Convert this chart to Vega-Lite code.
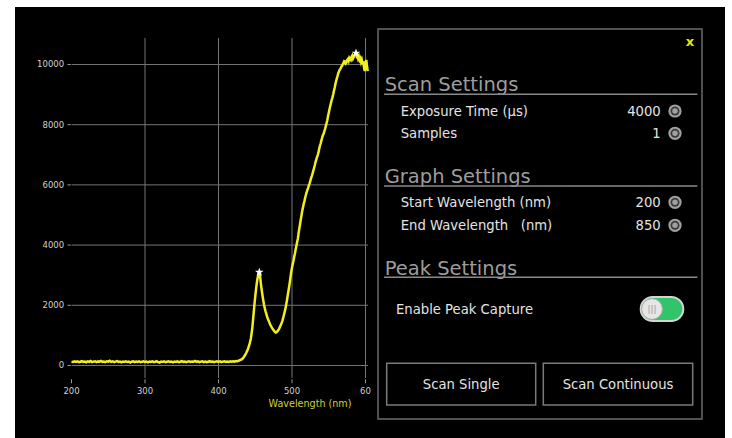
{
"$schema": "https://vega.github.io/schema/vega-lite/v6.json",
"width": 710, "height": 431,
"padding": {"left": 15, "top": 7, "right": 7, "bottom": 0},
"background": "white",
"config": {"view": {"fill": "black", "stroke": null}, "text": {"font": "DejaVu Sans"}},
"datasets": {
"spectrum": [{"nm":200,"val":130},{"nm":202,"val":115},{"nm":204,"val":140},{"nm":206,"val":120},{"nm":208,"val":135},{"nm":210,"val":110},{"nm":212,"val":125},{"nm":214,"val":145},{"nm":216,"val":118},{"nm":218,"val":130},{"nm":220,"val":108},{"nm":222,"val":138},{"nm":224,"val":122},{"nm":226,"val":150},{"nm":228,"val":115},{"nm":230,"val":128},{"nm":232,"val":140},{"nm":234,"val":112},{"nm":236,"val":135},{"nm":238,"val":125},{"nm":240,"val":148},{"nm":242,"val":118},{"nm":244,"val":132},{"nm":246,"val":110},{"nm":248,"val":140},{"nm":250,"val":126},{"nm":252,"val":155},{"nm":254,"val":120},{"nm":256,"val":135},{"nm":258,"val":112},{"nm":260,"val":130},{"nm":262,"val":145},{"nm":264,"val":118},{"nm":266,"val":128},{"nm":268,"val":105},{"nm":270,"val":132},{"nm":272,"val":120},{"nm":274,"val":140},{"nm":276,"val":115},{"nm":278,"val":128},{"nm":280,"val":100},{"nm":282,"val":125},{"nm":284,"val":138},{"nm":286,"val":112},{"nm":288,"val":130},{"nm":290,"val":118},{"nm":292,"val":135},{"nm":294,"val":108},{"nm":296,"val":122},{"nm":298,"val":140},{"nm":300,"val":115},{"nm":302,"val":128},{"nm":304,"val":105},{"nm":306,"val":132},{"nm":308,"val":118},{"nm":310,"val":138},{"nm":312,"val":112},{"nm":314,"val":125},{"nm":316,"val":142},{"nm":318,"val":110},{"nm":320,"val":95},{"nm":322,"val":130},{"nm":324,"val":118},{"nm":326,"val":135},{"nm":328,"val":108},{"nm":330,"val":125},{"nm":332,"val":140},{"nm":334,"val":115},{"nm":336,"val":128},{"nm":338,"val":105},{"nm":340,"val":130},{"nm":342,"val":120},{"nm":344,"val":138},{"nm":346,"val":112},{"nm":348,"val":126},{"nm":350,"val":145},{"nm":352,"val":118},{"nm":354,"val":132},{"nm":356,"val":110},{"nm":358,"val":128},{"nm":360,"val":140},{"nm":362,"val":115},{"nm":364,"val":130},{"nm":366,"val":122},{"nm":368,"val":148},{"nm":370,"val":118},{"nm":372,"val":135},{"nm":374,"val":112},{"nm":376,"val":128},{"nm":378,"val":140},{"nm":380,"val":115},{"nm":382,"val":132},{"nm":384,"val":108},{"nm":386,"val":125},{"nm":388,"val":142},{"nm":390,"val":118},{"nm":392,"val":130},{"nm":394,"val":112},{"nm":396,"val":128},{"nm":398,"val":140},{"nm":400,"val":120},{"nm":402,"val":135},{"nm":404,"val":110},{"nm":406,"val":128},{"nm":408,"val":142},{"nm":410,"val":118},{"nm":412,"val":130},{"nm":414,"val":115},{"nm":416,"val":138},{"nm":418,"val":125},{"nm":420,"val":140},{"nm":422,"val":130},{"nm":424,"val":150},{"nm":426,"val":145},{"nm":428,"val":165},{"nm":430,"val":185},{"nm":432,"val":210},{"nm":434,"val":265},{"nm":436,"val":340},{"nm":438,"val":430},{"nm":440,"val":540},{"nm":442,"val":690},{"nm":444,"val":890},{"nm":446,"val":1250},{"nm":448,"val":1780},{"nm":449,"val":2060},{"nm":450,"val":2300},{"nm":451,"val":2520},{"nm":452,"val":2720},{"nm":453,"val":2880},{"nm":454,"val":3000},{"nm":455,"val":3080},{"nm":456,"val":3090},{"nm":457,"val":2870},{"nm":458,"val":2640},{"nm":459,"val":2470},{"nm":460,"val":2300},{"nm":461,"val":2150},{"nm":462,"val":2010},{"nm":463,"val":1900},{"nm":464,"val":1800},{"nm":465,"val":1720},{"nm":466,"val":1630},{"nm":467,"val":1560},{"nm":468,"val":1500},{"nm":469,"val":1440},{"nm":470,"val":1380},{"nm":471,"val":1330},{"nm":472,"val":1280},{"nm":473,"val":1240},{"nm":474,"val":1200},{"nm":475,"val":1170},{"nm":476,"val":1140},{"nm":477,"val":1110},{"nm":478,"val":1095},{"nm":479,"val":1105},{"nm":480,"val":1130},{"nm":481,"val":1160},{"nm":482,"val":1200},{"nm":483,"val":1250},{"nm":484,"val":1300},{"nm":485,"val":1360},{"nm":486,"val":1420},{"nm":487,"val":1490},{"nm":488,"val":1580},{"nm":489,"val":1680},{"nm":490,"val":1780},{"nm":491,"val":1880},{"nm":492,"val":2010},{"nm":493,"val":2150},{"nm":494,"val":2300},{"nm":495,"val":2450},{"nm":496,"val":2600},{"nm":497,"val":2760},{"nm":498,"val":2940},{"nm":499,"val":3120},{"nm":500,"val":3250},{"nm":501,"val":3370},{"nm":502,"val":3480},{"nm":503,"val":3610},{"nm":504,"val":3720},{"nm":505,"val":3860},{"nm":506,"val":3980},{"nm":507,"val":4100},{"nm":508,"val":4220},{"nm":509,"val":4400},{"nm":510,"val":4560},{"nm":511,"val":4700},{"nm":512,"val":4860},{"nm":513,"val":5000},{"nm":514,"val":5150},{"nm":515,"val":5260},{"nm":516,"val":5380},{"nm":517,"val":5470},{"nm":518,"val":5580},{"nm":519,"val":5680},{"nm":520,"val":5760},{"nm":521,"val":5840},{"nm":522,"val":5900},{"nm":523,"val":5990},{"nm":524,"val":6050},{"nm":525,"val":6140},{"nm":526,"val":6230},{"nm":527,"val":6300},{"nm":528,"val":6380},{"nm":529,"val":6470},{"nm":530,"val":6560},{"nm":531,"val":6650},{"nm":532,"val":6760},{"nm":533,"val":6840},{"nm":534,"val":6920},{"nm":535,"val":6990},{"nm":536,"val":7080},{"nm":537,"val":7200},{"nm":538,"val":7300},{"nm":539,"val":7380},{"nm":540,"val":7480},{"nm":541,"val":7560},{"nm":542,"val":7650},{"nm":543,"val":7700},{"nm":544,"val":7780},{"nm":545,"val":7860},{"nm":546,"val":7950},{"nm":547,"val":8050},{"nm":548,"val":8150},{"nm":549,"val":8280},{"nm":550,"val":8400},{"nm":551,"val":8510},{"nm":552,"val":8620},{"nm":553,"val":8720},{"nm":554,"val":8820},{"nm":555,"val":8900},{"nm":556,"val":9000},{"nm":557,"val":9120},{"nm":558,"val":9220},{"nm":559,"val":9340},{"nm":560,"val":9450},{"nm":561,"val":9540},{"nm":562,"val":9620},{"nm":563,"val":9710},{"nm":564,"val":9780},{"nm":565,"val":9830},{"nm":566,"val":9860},{"nm":567,"val":9920},{"nm":568,"val":9950},{"nm":569,"val":10010},{"nm":570,"val":10050},{"nm":571,"val":10110},{"nm":572,"val":10100},{"nm":573,"val":10030},{"nm":574,"val":10060},{"nm":575,"val":10150},{"nm":576,"val":10180},{"nm":577,"val":10120},{"nm":578,"val":10220},{"nm":579,"val":10180},{"nm":580,"val":10150},{"nm":581,"val":10260},{"nm":582,"val":10300},{"nm":583,"val":10200},{"nm":584,"val":10250},{"nm":585,"val":10310},{"nm":586,"val":10330},{"nm":587,"val":10380},{"nm":588,"val":10280},{"nm":589,"val":10320},{"nm":590,"val":10200},{"nm":591,"val":10260},{"nm":592,"val":10150},{"nm":593,"val":10200},{"nm":594,"val":10080},{"nm":595,"val":10150},{"nm":596,"val":10020},{"nm":597,"val":10100},{"nm":598,"val":9900},{"nm":599,"val":9780},{"nm":600,"val":10050},{"nm":601,"val":10150},{"nm":602,"val":9950},{"nm":603,"val":9780}],
"peaks": [{"nm":455.5,"val":3100},{"nm":587,"val":10380}],
"yticks": [{"val":0,"lab":"0"},{"val":2000,"lab":"2000"},{"val":4000,"lab":"4000"},{"val":6000,"lab":"6000"},{"val":8000,"lab":"8000"},{"val":10000,"lab":"10000"}],
"xticks": [{"nm":300},{"nm":400},{"nm":500},{"nm":600}],
"xlabels": [{"nm":200,"lab":"200"},{"nm":300,"lab":"300"},{"nm":400,"lab":"400"},{"nm":500,"lab":"500"},{"nm":600,"lab":"60\u00a0"}]
},
"layer": [
{"layer": [
 {"data":{"name":"yticks"},"mark":{"type":"rule","color":"#747474","strokeWidth":1},
  "encoding":{"y":{"field":"val","type":"quantitative","scale":{"domain":[-2409,11910],"nice":false,"zero":false},"axis":null},
   "x":{"datum":200,"type":"quantitative","scale":{"domain":[123.13,1089.1],"nice":false,"zero":false},"axis":null},"x2":{"datum":603.4}}},
 {"data":{"name":"yticks"},"mark":{"type":"rule","color":"#9a9a9a","strokeWidth":1},
  "encoding":{"y":{"field":"val","type":"quantitative","scale":{"domain":[-2409,11910],"nice":false,"zero":false},"axis":null},
   "x":{"datum":194.5,"type":"quantitative","scale":{"domain":[123.13,1089.1],"nice":false,"zero":false},"axis":null},"x2":{"datum":199}}},
 {"data":{"name":"yticks"},"mark":{"type":"text","align":"right","baseline":"middle","fontSize":8.5,"color":"#d0d0d0"},
  "encoding":{"y":{"field":"val","type":"quantitative","scale":{"domain":[-2409,11910],"nice":false,"zero":false},"axis":null},
   "x":{"datum":190,"type":"quantitative","scale":{"domain":[123.13,1089.1],"nice":false,"zero":false},"axis":null},"text":{"field":"lab"}}},
 {"data":{"name":"xticks"},"mark":{"type":"rule","color":"#747474","strokeWidth":1},
  "encoding":{"x":{"field":"nm","type":"quantitative","scale":{"domain":[123.13,1089.1],"nice":false,"zero":false},"axis":null},
   "y":{"datum":-415,"type":"quantitative","scale":{"domain":[-2409,11910],"nice":false,"zero":false},"axis":null},"y2":{"datum":10880}}},
 {"data":{"name":"xlabels"},"mark":{"type":"rule","color":"#9a9a9a","strokeWidth":1},
  "encoding":{"x":{"field":"nm","type":"quantitative","scale":{"domain":[123.13,1089.1],"nice":false,"zero":false},"axis":null},
   "y":{"datum":-460,"type":"quantitative","scale":{"domain":[-2409,11910],"nice":false,"zero":false},"axis":null},"y2":{"datum":-590}}},
 {"data":{"name":"xlabels"},"mark":{"type":"text","align":"center","baseline":"middle","fontSize":8.5,"color":"#d0d0d0"},
  "encoding":{"x":{"field":"nm","type":"quantitative","scale":{"domain":[123.13,1089.1],"nice":false,"zero":false},"axis":null},
   "y":{"datum":-850,"type":"quantitative","scale":{"domain":[-2409,11910],"nice":false,"zero":false},"axis":null},"text":{"field":"lab"}}},
 {"data":{"values":[{"title":"Wavelength (nm)"}]},"mark":{"type":"text","align":"center","baseline":"middle","fontSize":9.6,"color":"#cfcf3a"},
  "encoding":{"x":{"datum":524.5,"type":"quantitative","scale":{"domain":[123.13,1089.1],"nice":false,"zero":false},"axis":null},
   "y":{"datum":-1279,"type":"quantitative","scale":{"domain":[-2409,11910],"nice":false,"zero":false},"axis":null},"text":{"field":"title"}}},
 {"data":{"name":"spectrum"},"mark":{"type":"line","color":"#f3ef1f","strokeWidth":2.5},
  "encoding":{"x":{"field":"nm","type":"quantitative","scale":{"domain":[123.13,1089.1],"nice":false,"zero":false},"axis":null},
   "y":{"field":"val","type":"quantitative","scale":{"domain":[-2409,11910],"nice":false,"zero":false},"axis":null}}},
 {"data":{"name":"peaks"},"mark":{"type":"point","shape":"M0,-1L0.2245,-0.309L0.951,-0.309L0.363,0.118L0.588,0.809L0,0.382L-0.588,0.809L-0.363,0.118L-0.951,-0.309L-0.2245,-0.309Z","filled":true,"color":"white","size":85,"opacity":1},
  "encoding":{"x":{"field":"nm","type":"quantitative","scale":{"domain":[123.13,1089.1],"nice":false,"zero":false},"axis":null},
   "y":{"field":"val","type":"quantitative","scale":{"domain":[-2409,11910],"nice":false,"zero":false},"axis":null}}}
]},
{"layer": [
 {"data":{"values":[{"part":"panel"}]},"mark":{"type":"rect","fill":"black","stroke":"#6b6b6b","strokeWidth":1.5},
  "encoding":{"x":{"datum":0,"type":"quantitative","scale":{"domain":[-363,347],"nice":false,"zero":false},"axis":null},"x2":{"datum":324},
   "y":{"datum":0,"type":"quantitative","scale":{"domain":[-22,409],"nice":false,"zero":false,"reverse":true},"axis":null},"y2":{"datum":390}}},
 {"data":{"values":[{"t":"x"}]},"mark":{"type":"text","align":"center","baseline":"alphabetic","fontSize":13,"fontWeight":"bold","color":"#e6e600"},
  "encoding":{"x":{"datum":312,"type":"quantitative","scale":{"domain":[-363,347],"nice":false,"zero":false},"axis":null},
   "y":{"datum":17,"type":"quantitative","scale":{"domain":[-22,409],"nice":false,"zero":false,"reverse":true},"axis":null},"text":{"field":"t"}}},
 {"data":{"values":[{"h":"Scan Settings"}]},"mark":{"type":"text","align":"left","baseline":"alphabetic","fontSize":19.5,"color":"#9d9d9d"},
  "encoding":{"x":{"datum":6.7,"type":"quantitative","scale":{"domain":[-363,347],"nice":false,"zero":false},"axis":null},
   "y":{"datum":61.7,"type":"quantitative","scale":{"domain":[-22,409],"nice":false,"zero":false,"reverse":true},"axis":null},"text":{"field":"h"}}},
 {"data":{"values":[{"h":"Graph Settings"}]},"mark":{"type":"text","align":"left","baseline":"alphabetic","fontSize":19.5,"color":"#9d9d9d"},
  "encoding":{"x":{"datum":6.7,"type":"quantitative","scale":{"domain":[-363,347],"nice":false,"zero":false},"axis":null},
   "y":{"datum":153.7,"type":"quantitative","scale":{"domain":[-22,409],"nice":false,"zero":false,"reverse":true},"axis":null},"text":{"field":"h"}}},
 {"data":{"values":[{"h":"Peak Settings"}]},"mark":{"type":"text","align":"left","baseline":"alphabetic","fontSize":19.5,"color":"#9d9d9d"},
  "encoding":{"x":{"datum":6.7,"type":"quantitative","scale":{"domain":[-363,347],"nice":false,"zero":false},"axis":null},
   "y":{"datum":246.3,"type":"quantitative","scale":{"domain":[-22,409],"nice":false,"zero":false,"reverse":true},"axis":null},"text":{"field":"h"}}},
 {"data":{"values":[{"line":"Scan Settings"}]},"mark":{"type":"rule","color":"#8a8a8a","strokeWidth":1.5},
  "encoding":{"x":{"datum":6,"type":"quantitative","scale":{"domain":[-363,347],"nice":false,"zero":false},"axis":null},"x2":{"datum":319.3},
   "y":{"datum":65.3,"type":"quantitative","scale":{"domain":[-22,409],"nice":false,"zero":false,"reverse":true},"axis":null}}},
 {"data":{"values":[{"line":"Graph Settings"}]},"mark":{"type":"rule","color":"#8a8a8a","strokeWidth":1.5},
  "encoding":{"x":{"datum":6,"type":"quantitative","scale":{"domain":[-363,347],"nice":false,"zero":false},"axis":null},"x2":{"datum":319.3},
   "y":{"datum":157,"type":"quantitative","scale":{"domain":[-22,409],"nice":false,"zero":false,"reverse":true},"axis":null}}},
 {"data":{"values":[{"line":"Peak Settings"}]},"mark":{"type":"rule","color":"#8a8a8a","strokeWidth":1.5},
  "encoding":{"x":{"datum":6,"type":"quantitative","scale":{"domain":[-363,347],"nice":false,"zero":false},"axis":null},"x2":{"datum":319.3},
   "y":{"datum":248.3,"type":"quantitative","scale":{"domain":[-22,409],"nice":false,"zero":false,"reverse":true},"axis":null}}},
 {"data":{"values":[{"label":"Exposure Time (µs)","value":"4000"}]},"layer":[
  {"mark":{"type":"text","align":"left","baseline":"alphabetic","fontSize":13.2,"color":"#e4e4e4"},"encoding":{"x":{"datum":22.7,"type":"quantitative","scale":{"domain":[-363,347],"nice":false,"zero":false},"axis":null},"y":{"datum":86.7,"type":"quantitative","scale":{"domain":[-22,409],"nice":false,"zero":false,"reverse":true},"axis":null},"text":{"field":"label"}}},
  {"mark":{"type":"text","align":"right","baseline":"alphabetic","fontSize":13.2,"color":"#e4e4e4"},"encoding":{"x":{"datum":282.7,"type":"quantitative","scale":{"domain":[-363,347],"nice":false,"zero":false},"axis":null},"y":{"datum":86.7,"type":"quantitative","scale":{"domain":[-22,409],"nice":false,"zero":false,"reverse":true},"axis":null},"text":{"field":"value"}}},
  {"mark":{"type":"point","shape":"circle","filled":true,"size":175,"color":"#a0a0a0","opacity":1},"encoding":{"x":{"datum":297,"type":"quantitative","scale":{"domain":[-363,347],"nice":false,"zero":false},"axis":null},"y":{"datum":82,"type":"quantitative","scale":{"domain":[-22,409],"nice":false,"zero":false,"reverse":true},"axis":null}}},
  {"mark":{"type":"point","shape":"circle","filled":true,"size":80,"color":"#3a3a3a","opacity":1},"encoding":{"x":{"datum":297,"type":"quantitative","scale":{"domain":[-363,347],"nice":false,"zero":false},"axis":null},"y":{"datum":82,"type":"quantitative","scale":{"domain":[-22,409],"nice":false,"zero":false,"reverse":true},"axis":null}}},
  {"mark":{"type":"point","shape":"circle","filled":true,"size":30,"color":"#a0a0a0","opacity":1},"encoding":{"x":{"datum":297,"type":"quantitative","scale":{"domain":[-363,347],"nice":false,"zero":false},"axis":null},"y":{"datum":82,"type":"quantitative","scale":{"domain":[-22,409],"nice":false,"zero":false,"reverse":true},"axis":null}}}
 ]},
 {"data":{"values":[{"label":"Samples","value":"1"}]},"layer":[
  {"mark":{"type":"text","align":"left","baseline":"alphabetic","fontSize":13.2,"color":"#e4e4e4"},"encoding":{"x":{"datum":22.7,"type":"quantitative","scale":{"domain":[-363,347],"nice":false,"zero":false},"axis":null},"y":{"datum":109.1,"type":"quantitative","scale":{"domain":[-22,409],"nice":false,"zero":false,"reverse":true},"axis":null},"text":{"field":"label"}}},
  {"mark":{"type":"text","align":"right","baseline":"alphabetic","fontSize":13.2,"color":"#e4e4e4"},"encoding":{"x":{"datum":282.7,"type":"quantitative","scale":{"domain":[-363,347],"nice":false,"zero":false},"axis":null},"y":{"datum":109.1,"type":"quantitative","scale":{"domain":[-22,409],"nice":false,"zero":false,"reverse":true},"axis":null},"text":{"field":"value"}}},
  {"mark":{"type":"point","shape":"circle","filled":true,"size":175,"color":"#a0a0a0","opacity":1},"encoding":{"x":{"datum":297,"type":"quantitative","scale":{"domain":[-363,347],"nice":false,"zero":false},"axis":null},"y":{"datum":104.3,"type":"quantitative","scale":{"domain":[-22,409],"nice":false,"zero":false,"reverse":true},"axis":null}}},
  {"mark":{"type":"point","shape":"circle","filled":true,"size":80,"color":"#3a3a3a","opacity":1},"encoding":{"x":{"datum":297,"type":"quantitative","scale":{"domain":[-363,347],"nice":false,"zero":false},"axis":null},"y":{"datum":104.3,"type":"quantitative","scale":{"domain":[-22,409],"nice":false,"zero":false,"reverse":true},"axis":null}}},
  {"mark":{"type":"point","shape":"circle","filled":true,"size":30,"color":"#a0a0a0","opacity":1},"encoding":{"x":{"datum":297,"type":"quantitative","scale":{"domain":[-363,347],"nice":false,"zero":false},"axis":null},"y":{"datum":104.3,"type":"quantitative","scale":{"domain":[-22,409],"nice":false,"zero":false,"reverse":true},"axis":null}}}
 ]},
 {"data":{"values":[{"label":"Start Wavelength (nm)","value":"200"}]},"layer":[
  {"mark":{"type":"text","align":"left","baseline":"alphabetic","fontSize":13.2,"color":"#e4e4e4"},"encoding":{"x":{"datum":22.7,"type":"quantitative","scale":{"domain":[-363,347],"nice":false,"zero":false},"axis":null},"y":{"datum":178.1,"type":"quantitative","scale":{"domain":[-22,409],"nice":false,"zero":false,"reverse":true},"axis":null},"text":{"field":"label"}}},
  {"mark":{"type":"text","align":"right","baseline":"alphabetic","fontSize":13.2,"color":"#e4e4e4"},"encoding":{"x":{"datum":282.7,"type":"quantitative","scale":{"domain":[-363,347],"nice":false,"zero":false},"axis":null},"y":{"datum":178.1,"type":"quantitative","scale":{"domain":[-22,409],"nice":false,"zero":false,"reverse":true},"axis":null},"text":{"field":"value"}}},
  {"mark":{"type":"point","shape":"circle","filled":true,"size":175,"color":"#a0a0a0","opacity":1},"encoding":{"x":{"datum":297,"type":"quantitative","scale":{"domain":[-363,347],"nice":false,"zero":false},"axis":null},"y":{"datum":173.3,"type":"quantitative","scale":{"domain":[-22,409],"nice":false,"zero":false,"reverse":true},"axis":null}}},
  {"mark":{"type":"point","shape":"circle","filled":true,"size":80,"color":"#3a3a3a","opacity":1},"encoding":{"x":{"datum":297,"type":"quantitative","scale":{"domain":[-363,347],"nice":false,"zero":false},"axis":null},"y":{"datum":173.3,"type":"quantitative","scale":{"domain":[-22,409],"nice":false,"zero":false,"reverse":true},"axis":null}}},
  {"mark":{"type":"point","shape":"circle","filled":true,"size":30,"color":"#a0a0a0","opacity":1},"encoding":{"x":{"datum":297,"type":"quantitative","scale":{"domain":[-363,347],"nice":false,"zero":false},"axis":null},"y":{"datum":173.3,"type":"quantitative","scale":{"domain":[-22,409],"nice":false,"zero":false,"reverse":true},"axis":null}}}
 ]},
 {"data":{"values":[{"label":"End Wavelength\u00a0\u00a0\u00a0(nm)","value":"850"}]},"layer":[
  {"mark":{"type":"text","align":"left","baseline":"alphabetic","fontSize":13.2,"color":"#e4e4e4"},"encoding":{"x":{"datum":22.7,"type":"quantitative","scale":{"domain":[-363,347],"nice":false,"zero":false},"axis":null},"y":{"datum":201.1,"type":"quantitative","scale":{"domain":[-22,409],"nice":false,"zero":false,"reverse":true},"axis":null},"text":{"field":"label"}}},
  {"mark":{"type":"text","align":"right","baseline":"alphabetic","fontSize":13.2,"color":"#e4e4e4"},"encoding":{"x":{"datum":282.7,"type":"quantitative","scale":{"domain":[-363,347],"nice":false,"zero":false},"axis":null},"y":{"datum":201.1,"type":"quantitative","scale":{"domain":[-22,409],"nice":false,"zero":false,"reverse":true},"axis":null},"text":{"field":"value"}}},
  {"mark":{"type":"point","shape":"circle","filled":true,"size":175,"color":"#a0a0a0","opacity":1},"encoding":{"x":{"datum":297,"type":"quantitative","scale":{"domain":[-363,347],"nice":false,"zero":false},"axis":null},"y":{"datum":196.3,"type":"quantitative","scale":{"domain":[-22,409],"nice":false,"zero":false,"reverse":true},"axis":null}}},
  {"mark":{"type":"point","shape":"circle","filled":true,"size":80,"color":"#3a3a3a","opacity":1},"encoding":{"x":{"datum":297,"type":"quantitative","scale":{"domain":[-363,347],"nice":false,"zero":false},"axis":null},"y":{"datum":196.3,"type":"quantitative","scale":{"domain":[-22,409],"nice":false,"zero":false,"reverse":true},"axis":null}}},
  {"mark":{"type":"point","shape":"circle","filled":true,"size":30,"color":"#a0a0a0","opacity":1},"encoding":{"x":{"datum":297,"type":"quantitative","scale":{"domain":[-363,347],"nice":false,"zero":false},"axis":null},"y":{"datum":196.3,"type":"quantitative","scale":{"domain":[-22,409],"nice":false,"zero":false,"reverse":true},"axis":null}}}
 ]},
 {"data":{"values":[{"label":"Enable Peak Capture"}]},"mark":{"type":"text","align":"left","baseline":"alphabetic","fontSize":13.2,"color":"#e4e4e4"},
  "encoding":{"x":{"datum":18,"type":"quantitative","scale":{"domain":[-363,347],"nice":false,"zero":false},"axis":null},"y":{"datum":285.1,"type":"quantitative","scale":{"domain":[-22,409],"nice":false,"zero":false,"reverse":true},"axis":null},"text":{"field":"label"}}},
 {"data":{"values":[{"toggle":"on"}]},"layer":[
  {"mark":{"type":"rect","fill":"#31c46a","stroke":"#d4d4d4","strokeWidth":2,"cornerRadius":12},"encoding":{"x":{"datum":262.7,"type":"quantitative","scale":{"domain":[-363,347],"nice":false,"zero":false},"axis":null},"x2":{"datum":305.3},"y":{"datum":268,"type":"quantitative","scale":{"domain":[-22,409],"nice":false,"zero":false,"reverse":true},"axis":null},"y2":{"datum":292}}},
  {"mark":{"type":"point","shape":"circle","filled":true,"size":430,"color":"#e6e6e6","stroke":"#b0b0b0","strokeWidth":1,"opacity":1},"encoding":{"x":{"datum":274,"type":"quantitative","scale":{"domain":[-363,347],"nice":false,"zero":false},"axis":null},"y":{"datum":280,"type":"quantitative","scale":{"domain":[-22,409],"nice":false,"zero":false,"reverse":true},"axis":null}}},
  {"mark":{"type":"text","align":"center","baseline":"middle","fontSize":9,"color":"#9a9a9a","text":"|||"},"encoding":{"x":{"datum":274,"type":"quantitative","scale":{"domain":[-363,347],"nice":false,"zero":false},"axis":null},"y":{"datum":280,"type":"quantitative","scale":{"domain":[-22,409],"nice":false,"zero":false,"reverse":true},"axis":null}}}
 ]},
 {"data":{"values":[{"button":"Scan Single"}]},"layer":[
  {"mark":{"type":"rect","fill":"black","stroke":"#7a7a7a","strokeWidth":1.5},"encoding":{"x":{"datum":8.7,"type":"quantitative","scale":{"domain":[-363,347],"nice":false,"zero":false},"axis":null},"x2":{"datum":157.7},"y":{"datum":334.3,"type":"quantitative","scale":{"domain":[-22,409],"nice":false,"zero":false,"reverse":true},"axis":null},"y2":{"datum":376}}},
  {"mark":{"type":"text","align":"center","baseline":"alphabetic","fontSize":13.2,"color":"#e4e4e4"},"encoding":{"x":{"datum":83.2,"type":"quantitative","scale":{"domain":[-363,347],"nice":false,"zero":false},"axis":null},"y":{"datum":360.1,"type":"quantitative","scale":{"domain":[-22,409],"nice":false,"zero":false,"reverse":true},"axis":null},"text":{"field":"button"}}}
 ]},
 {"data":{"values":[{"button":"Scan Continuous"}]},"layer":[
  {"mark":{"type":"rect","fill":"black","stroke":"#7a7a7a","strokeWidth":1.5},"encoding":{"x":{"datum":165.3,"type":"quantitative","scale":{"domain":[-363,347],"nice":false,"zero":false},"axis":null},"x2":{"datum":314.7},"y":{"datum":334.3,"type":"quantitative","scale":{"domain":[-22,409],"nice":false,"zero":false,"reverse":true},"axis":null},"y2":{"datum":376}}},
  {"mark":{"type":"text","align":"center","baseline":"alphabetic","fontSize":13.2,"color":"#e4e4e4"},"encoding":{"x":{"datum":240,"type":"quantitative","scale":{"domain":[-363,347],"nice":false,"zero":false},"axis":null},"y":{"datum":360.1,"type":"quantitative","scale":{"domain":[-22,409],"nice":false,"zero":false,"reverse":true},"axis":null},"text":{"field":"button"}}}
 ]}
]}
],
"resolve": {"scale": {"x": "independent", "y": "independent"}, "axis": {"x": "independent", "y": "independent"}}
}
